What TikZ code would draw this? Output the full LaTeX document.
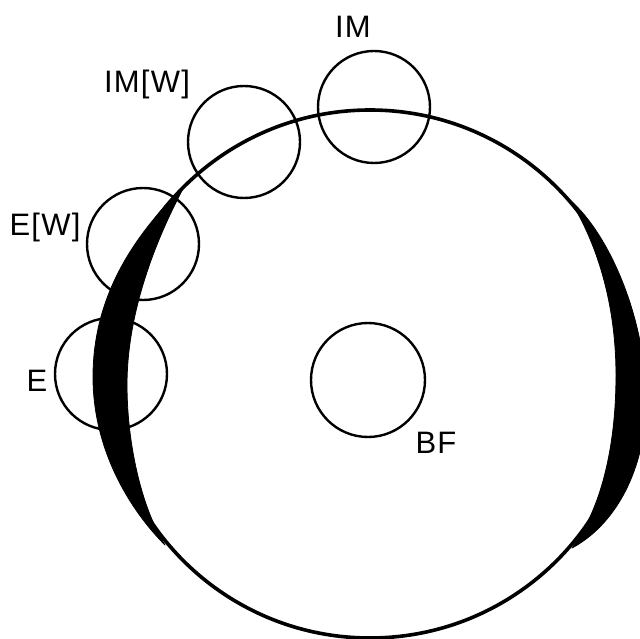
\documentclass[tikz,border=0pt]{standalone}
\usepackage{fontspec}
\setmainfont{Liberation Sans}[LetterSpace=4]
\begin{document}
\begin{tikzpicture}[x=1pt,y=-1pt,
  ring/.style={circle,draw,line width=2.4pt,minimum size=112pt,inner sep=0pt},
  lbl/.style={inner sep=0pt,font=\fontsize{31}{32}\selectfont},
  crescent/.style={fill=black,draw=black,line width=0.8pt,line join=round}]
\useasboundingbox (0,0) rectangle (640,639);
\clip (0,0) rectangle (640,639);
% big circle
\node[circle,draw,line width=3.6pt,minimum size=528pt,inner sep=0pt] (big) at (370,374) {};
% left crescent
\fill[crescent] (185,185) .. controls (140,230) and (93,290) .. (93,377)
  .. controls (93,450) and (130,510) .. (165,545)
  .. controls (140,505) and (127,440) .. (127,385)
  .. controls (127,320) and (150,250) .. (185,185) -- cycle;
% right crescent
\fill[crescent] (570,200) .. controls (610,235) and (646,320) .. (646,400)
  .. controls (646,470) and (615,525) .. (572,548)
  .. controls (600,510) and (616,450) .. (616,375)
  .. controls (616,300) and (595,240) .. (570,200) -- cycle;
% small circles
\node[ring] (im) at (374,107) {};
\node[ring] (imw) at (244,142) {};
\node[ring] (ew) at (143,244) {};
\node[ring] (e) at (111,374) {};
\node[ring,minimum size=114pt] (bf) at (368,380) {};
% labels
\node[lbl] (tim) at (353,27) {IM};
\node[lbl] (timw) at (147,84) {IM[W]};
\node[lbl] (tew) at (45,227) {E[W]};
\node[lbl] (te) at (37,381) {E};
\node[lbl] (tbf) at (436,443) {BF};
\end{tikzpicture}
\end{document}
